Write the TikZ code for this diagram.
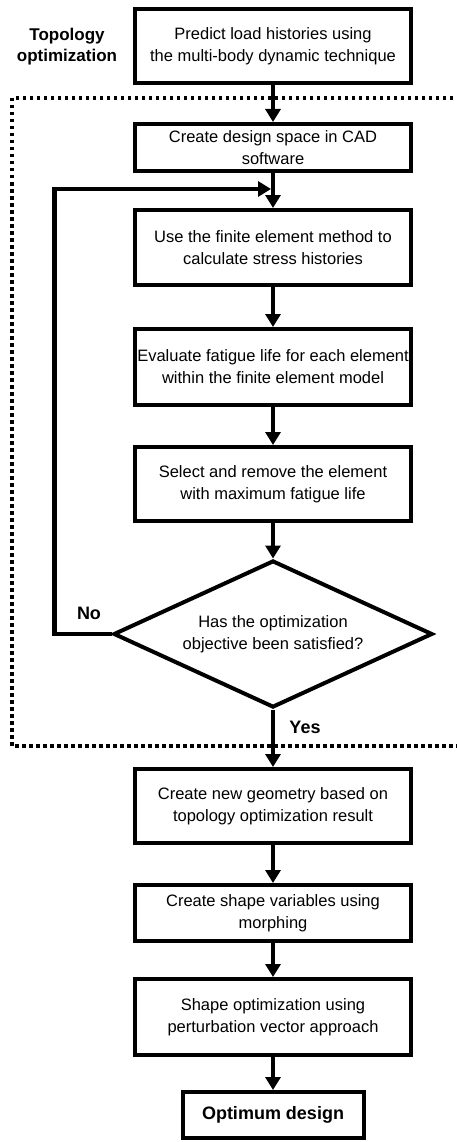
\documentclass[tikz,border=0pt]{standalone}
\usepackage{fontspec}
\setmainfont{Liberation Sans}
\usetikzlibrary{arrows.meta,shapes.geometric}
\tikzset{
	stepbox/.style={draw, line width=4pt, minimum width=276pt, inner sep=2pt, align=center, font=\fontsize{16.5}{22}\selectfont},
	flowarrow/.style={line width=4.5pt, -{Triangle[width=15pt,length=13pt]}},
	boldlbl/.style={font=\bfseries\fontsize{18}{21}\selectfont}
}

\begin{document}
\begin{tikzpicture}[x=1pt, y=-1pt]
			%%%%% START %%%%%
			
			\useasboundingbox (0, 0) rectangle (457, 1142);
			
			\node[font=\bfseries\fontsize{17}{21}\selectfont, align=center] (topo) at (67, 47) {Topology\\optimization};
			
			\node[stepbox, minimum height=74pt] (predict) at (273, 46) {Predict load histories using\\the multi-body dynamic technique};
			\node[stepbox, minimum height=47pt] (space) at (273, 147.5) {Create design space in CAD\\software};
			\node[stepbox, minimum height=75pt] (stress) at (273, 247.5) {Use the finite element method to\\calculate stress histories};
			\node[stepbox, minimum height=76pt] (fatigue) at (273, 367) {Evaluate fatigue life for each element\\within the finite element model};
			\node[stepbox, minimum height=74pt] (remove) at (273, 484) {Select and remove the element\\with maximum fatigue life};
			\node[draw, diamond, aspect=2.17, line width=4pt, minimum width=319pt, minimum height=147pt, inner sep=0pt, align=center, font=\fontsize{16.5}{22}\selectfont] (check) at (273, 634) {Has the optimization\\objective been satisfied?};
			\node[stepbox, minimum height=74pt] (geometry) at (273, 806) {Create new geometry based on\\topology optimization result};
			\node[stepbox, minimum height=56pt] (morph) at (273, 913) {Create shape variables using\\morphing};
			\node[stepbox, minimum height=76pt] (shape) at (273, 1017) {Shape optimization using\\perturbation vector approach};
			\node[stepbox, minimum width=181pt, minimum height=46pt, font=\bfseries\fontsize{18}{22}\selectfont] (optimum) at (273, 1115) {Optimum design};
			
			% dotted frame of the topology loop
			\draw[line width=3.5pt, dash pattern=on 3.5pt off 3.5pt] (460, 98) -- (12, 98) -- (12, 746) -- (460, 746);
			
			\draw[flowarrow] (predict) -- (space);
			\draw[flowarrow] (space) -- (stress);
			\draw[flowarrow] (stress) -- (fatigue);
			\draw[flowarrow] (fatigue) -- (remove);
			\draw[flowarrow] (remove) -- (check);
			\draw[flowarrow] (check) -- (geometry);
			\draw[flowarrow] (geometry) -- (morph);
			\draw[flowarrow] (morph) -- (shape);
			\draw[flowarrow] (shape) -- (optimum);
			
			\coordinate (merge) at (271, 189);
			\draw[flowarrow] (check.west) -- ++(-57, 0) |- (merge);
			
			\node[boldlbl] (no) at (89, 613) {No};
			\node[boldlbl] (yes) at (305, 727) {Yes};
			
			%%%%% END %%%%%
		\end{tikzpicture}
\end{document}
